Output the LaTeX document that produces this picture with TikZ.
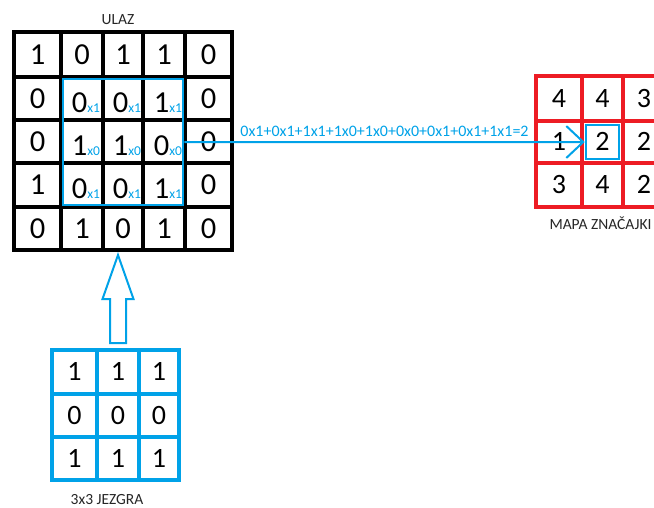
\documentclass[tikz,border=0pt]{standalone}
\usepackage{fontspec}
\setmainfont{Carlito}
\usetikzlibrary{matrix,fit,calc,positioning,arrows.meta}
\definecolor{kblue}{RGB}{0,162,232}
\definecolor{fred}{RGB}{237,28,36}
% weighted entry: digit with the kernel weight behind it
\newcommand{\wt}[2]{\raisebox{-4pt}{\hspace*{8pt}#1{\color{kblue}\fontsize{13.5}{14}\selectfont x#2}}}
\tikzset{
  cell/.style={draw, line width=3.8pt, outer sep=0pt, inner sep=0pt,
    text height=19pt, text depth=0pt, font=\fontsize{30.5}{32}\selectfont},
  smallcell/.style={cell, text height=17.5pt, font=\fontsize{28}{30}\selectfont},
  grid/.style={matrix of nodes, anchor=north west, inner sep=0pt, outer sep=0pt,
    column sep=-3.8pt, row sep=-3.8pt},
  win/.style={draw=kblue, line width=2.5pt},
  lbl/.style={font=\fontsize{15.5}{17}\selectfont, text=black!85},
}
\begin{document}
\begin{tikzpicture}[x=1pt,y=-1pt]
\useasboundingbox (0,0) rectangle (654,507);
\clip (0,0) rectangle (654,507);

% input
\matrix (in) [grid, nodes={cell, draw=black},
  column 1/.style={nodes={minimum width=47pt}}, column 2/.style={nodes={minimum width=42pt}},
  column 3/.style={nodes={minimum width=40pt}}, column 4/.style={nodes={minimum width=42pt}},
  column 5/.style={nodes={minimum width=47pt}},
  row 1/.style={nodes={minimum height=45pt}}, row 2/.style={nodes={minimum height=43pt}},
  row 3/.style={nodes={minimum height=43pt}}, row 4/.style={nodes={minimum height=44pt}},
  row 5/.style={nodes={minimum height=43pt}}] at (12.1,30.1) {
1 & 0 & 1 & 1 & 0 \\
0 & \wt{0}{1} & \wt{0}{1} & \wt{1}{1} & 0 \\
0 & \wt{1}{0} & \wt{1}{0} & \wt{0}{0} & 0 \\
1 & \wt{0}{1} & \wt{0}{1} & \wt{1}{1} & 0 \\
0 & 1 & 0 & 1 & 0 \\
};
\node[win, fit=(in-2-2)(in-4-4), inner sep=-2pt] (inwin) {};
\node[lbl, above=3.5pt of in-1-3.north, xshift=-5pt] (inlbl) {ULAZ};

% feature map
\matrix (m) [grid, nodes={smallcell, draw=fred},
  column 1/.style={nodes={minimum width=46pt}}, column 2/.style={nodes={minimum width=41pt}},
  column 3/.style={nodes={minimum width=42pt}},
  row 1/.style={nodes={minimum height=45pt}}, row 2/.style={nodes={minimum height=42pt}},
  row 3/.style={nodes={minimum height=44pt}}] at (534.1,74.1) {
4 & 4 & 3 \\
1 & 2 & 2 \\
3 & 4 & 2 \\
};
\node[win, fit=(m-2-2), inner sep=-4pt] (mwin) {};
\node[lbl, below=6pt of m-3-2.south, xshift=-2pt] (mlbl) {MAPA ZNAČAJKI};

% kernel
\matrix (k) [grid, nodes={smallcell, draw=kblue},
  column 1/.style={nodes={minimum width=45pt}}, column 2/.style={nodes={minimum width=42pt}},
  column 3/.style={nodes={minimum width=40pt}},
  row 1/.style={nodes={minimum height=44pt}}, row 2/.style={nodes={minimum height=43pt}},
  row 3/.style={nodes={minimum height=43pt}}] at (50.1,348.1) {
1 & 1 & 1 \\
0 & 0 & 0 \\
1 & 1 & 1 \\
};
\node[lbl, below=11pt of k-3-2.south, xshift=-11pt] (klbl) {3x3 JEZGRA};

% hollow arrow from kernel up to the input
\coordinate (ktip) at ($(k-1-2.north)+(0,-95)$);
\draw[kblue, line width=2pt, fill=white]
  ($(k-1-2.north)+(-8,-7)$) -- ++(0,-44) -- ++(-7.5,0) -- (ktip)
  -- ($(k-1-2.north)+(15.5,-51)$) -- ++(-7.5,0) -- ++(0,44) -- cycle;

% window -> feature map
\draw[kblue, line width=2pt, -{Straight Barb[length=17pt,width=32pt]}]
  (inwin.east) -- node[above=1pt, text=kblue, font=\fontsize{16}{18}\selectfont]
  {0x1+0x1+1x1+1x0+1x0+0x0+0x1+0x1+1x1=2} (mwin.west);

\end{tikzpicture}
\end{document}
